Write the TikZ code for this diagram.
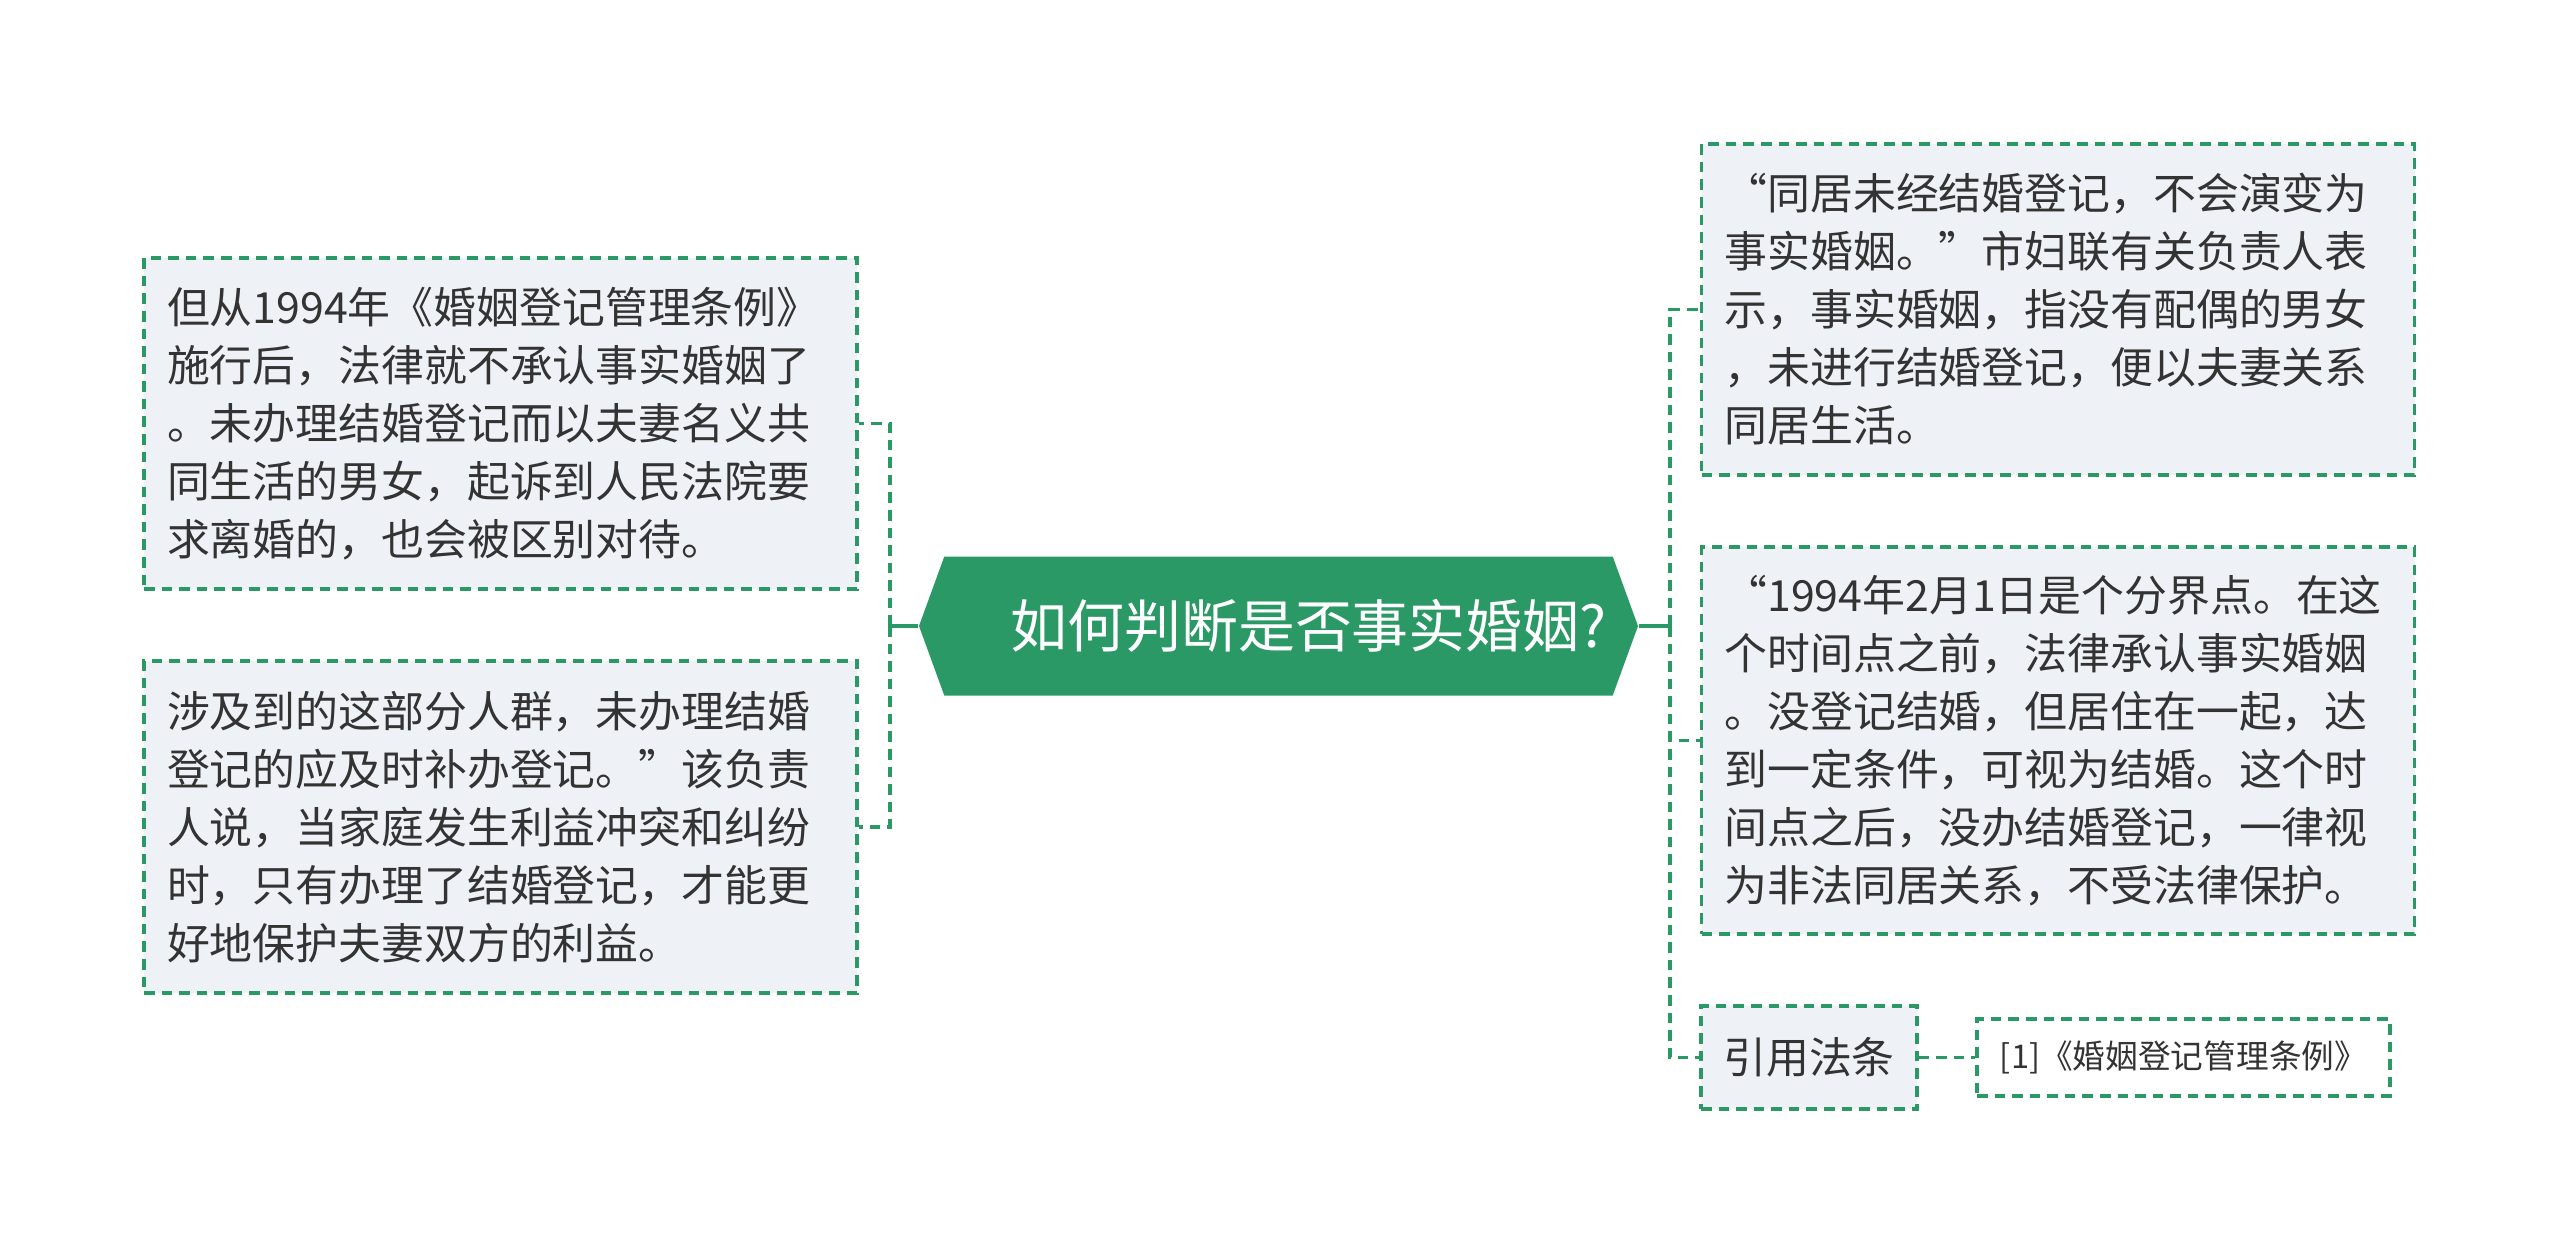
\documentclass[tikz,border=0pt]{standalone}
\usepackage{fontspec}
\setmainfont{Noto Sans CJK SC}
\usetikzlibrary{shapes.symbols, positioning}
\definecolor{mapgreen}{RGB}{42,153,101}
\definecolor{leafgray}{RGB}{238,241,245}
\definecolor{inkgray}{RGB}{51,51,51}
\tikzstyle{hub} = [signal, signal to=west and east, signal pointer angle=140, fill=mapgreen, text=white, minimum width=7.19cm, minimum height=1.39cm, inner sep=0pt, font=\fontsize{16.2pt}{19pt}\selectfont]
\tikzstyle{dashbox} = [draw=mapgreen, line width=0.9pt, dash pattern=on 3pt off 2pt, fill=leafgray, text=inkgray, inner ysep=0pt]
\tikzstyle{leaf} = [dashbox, text width=6.67cm, inner xsep=0.23cm, minimum height=3.31cm, align=left, font=\fontsize{12.2pt}{16.5pt}\selectfont]
\tikzstyle{link} = [mapgreen, line width=0.9pt, dash pattern=on 3pt off 2pt]
\tikzstyle{stem} = [mapgreen, line width=1.1pt]

\begin{document}
\begin{tikzpicture}
    \useasboundingbox (0,0) rectangle (25.6,-12.52);
    \node[hub] (q) at (12.785,-6.26) {\hspace*{0.6cm}如何判断是否事实婚姻?};
    % left side
    \node[leaf] (lbox1) at (5.005,-4.235) {但从1994年《婚姻登记管理条例》\\施行后，法律就不承认事实婚姻了\\。未办理结婚登记而以夫妻名义共\\同生活的男女，起诉到人民法院要\\求离婚的，也会被区别对待。};
    \node[leaf, minimum height=3.32cm] (lbox2) at (5.005,-8.27) {涉及到的这部分人群，未办理结婚\\登记的应及时补办登记。”该负责\\人说，当家庭发生利益冲突和纠纷\\时，只有办理了结婚登记，才能更\\好地保护夫妻双方的利益。};
    % right side
    \node[leaf] (rbox1) at (20.58,-3.095) {“同居未经结婚登记，不会演变为\\事实婚姻。”市妇联有关负责人表\\示，事实婚姻，指没有配偶的男女\\，未进行结婚登记，便以夫妻关系\\同居生活。};
    \node[leaf, minimum height=3.87cm] (rbox2) at (20.58,-7.405) {“1994年2月1日是个分界点。在这\\个时间点之前，法律承认事实婚姻\\。没登记结婚，但居住在一起，达\\到一定条件，可视为结婚。这个时\\间点之后，没办结婚登记，一律视\\为非法同居关系，不受法律保护。};
    \node[dashbox, minimum width=2.16cm, minimum height=1.03cm, font=\fontsize{12.2pt}{16.5pt}\selectfont] (rbox3) at (18.09,-10.575) {引用法条};
    \node[dashbox, fill=white, minimum width=4.13cm, minimum height=0.77cm, font=\fontsize{9.3pt}{12pt}\selectfont] (ref) at (21.835,-10.575) {[1]《婚姻登记管理条例》};

    \coordinate (lbus) at (8.90,-6.26);
    \coordinate (rbus) at (16.70,-6.26);
    \draw[stem] (q.west) -- (lbus);
    \draw[link] (lbus) |- (lbox1.east);
    \draw[link] (lbus) |- (lbox2.east);
    \draw[stem] (q.east) -- (rbus);
    \draw[link] (rbus) |- (rbox1.west);
    \draw[link] (rbus) |- (rbox2.west);
    \draw[link] (rbus) |- (rbox3.west);
    \draw[link] (rbox3.east) -- (ref.west);
\end{tikzpicture}
\end{document}
